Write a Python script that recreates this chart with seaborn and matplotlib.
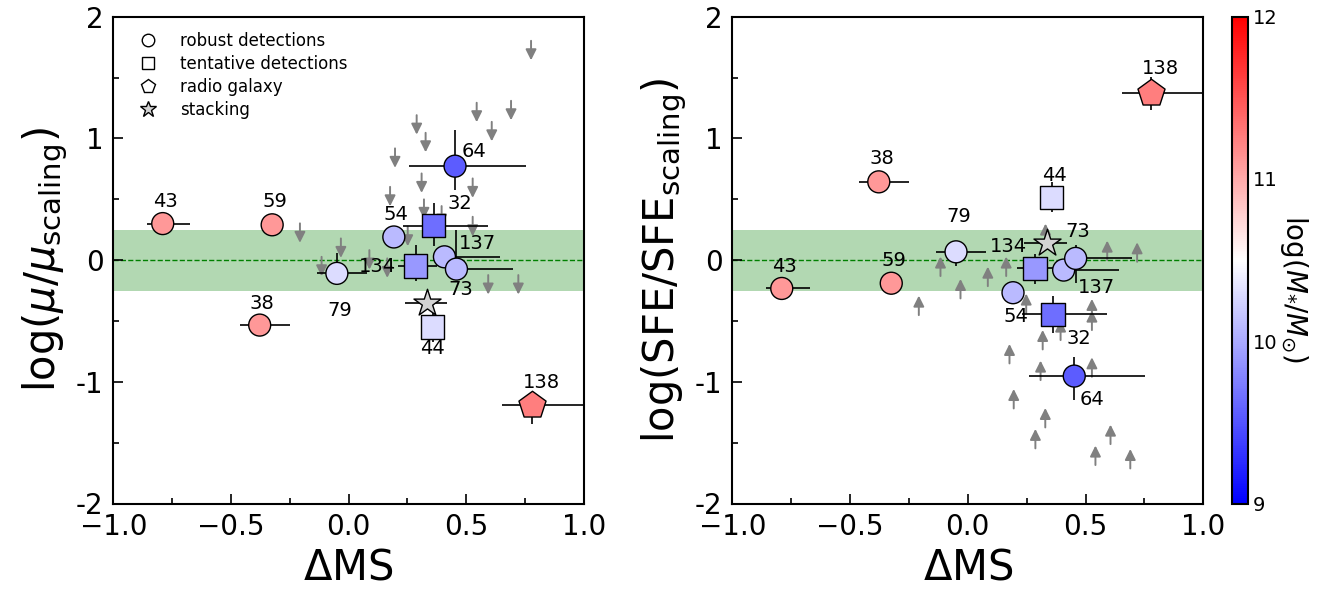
import numpy as np
import pandas as pd
import matplotlib
matplotlib.use('Agg')
import matplotlib.pyplot as plt
import seaborn as sns
from matplotlib.lines import Line2D
from matplotlib.colors import Normalize
from matplotlib.ticker import MultipleLocator
import matplotlib.cm as cm

# ---------------- data ----------------
ids = ['43', '59', '38', '79', '54', '32', '64', '134', '137', '73', '44', '138']
kind = ['robust', 'robust', 'robust', 'robust', 'robust', 'tentative', 'robust',
        'tentative', 'robust', 'robust', 'tentative', 'radio']
dms = [-0.79, -0.325, -0.378, -0.05, 0.192, 0.362, 0.452, 0.285, 0.407, 0.458, 0.357, 0.777]
dms_err_lo = [0.066, 0.0, 0.083, 0.083, 0.0, 0.13, 0.194, 0.076, 0.03, 0.03, 0.0, 0.124]
dms_err_hi = [0.118, 0.0, 0.129, 0.126, 0.0, 0.23, 0.302, 0.09, 0.234, 0.24, 0.0, 0.5]
logm = [11.1, 11.1, 11.1, 10.3, 10.1, 9.65, 9.55, 9.9, 10.1, 10.1, 10.3, 11.25]

log_mu = [0.30, 0.29, -0.534, -0.109, 0.19, 0.282, 0.772, -0.049, 0.027, -0.074, -0.55, -1.19]
log_mu_err_lo = [0, 0, 0, 0.08, 0, 0.17, 0.197, 0.12, 0.05, 0.05, 0.12, 0.16]
log_mu_err_hi = [0, 0, 0, 0.17, 0, 0.19, 0.296, 0.17, 0.05, 0.32, 0.12, 0.10]

log_sfe = [-0.233, -0.19, 0.643, 0.068, -0.268, -0.444, -0.953, -0.068, -0.082, 0.014, 0.515, 1.375]
log_sfe_err_lo = [0, 0, 0, 0.12, 0, 0.154, 0.2, 0.125, 0.05, 0.2, 0.12, 0.14]
log_sfe_err_hi = [0, 0, 0, 0.05, 0, 0.15, 0.16, 0.117, 0.05, 0.11, 0.13, 0.13]

# stacking
stack_dms = [0.335]
stack_dms_err_lo = [0.095]
stack_dms_err_hi = [0.085]
stack_mu = [-0.353]
stack_sfe = [0.137]

# non-detections: upper limits on mu, lower limits on SFE
ul_dms = [0.289, 0.327, 0.197, 0.544, 0.690, 0.608, 0.310, 0.527, 0.176, 0.32,
          0.395, 0.527, 0.251, -0.207, -0.033, 0.088, -0.115, 0.164, 0.593, 0.721, 0.775]
ul_mu = [1.191, 1.046, 0.918, 1.293, 1.309, 1.136, 0.712, 0.671, 0.602, 0.499,
         0.444, 0.356, 0.274, 0.302, 0.178, 0.082, 0.027, 0.014, -0.123, -0.123, 1.802]
ll_dms = [0.33, 0.592, 0.719, -0.116, 0.163, 0.085, -0.031, -0.208, 0.248, 0.527, 0.527,
          0.394, 0.318, 0.177, 0.309, 0.527, 0.195, 0.329, 0.287, 0.606, 0.542, 0.69]
ll_sfe = [0.14, 0.0, -0.014, -0.131, -0.131, -0.214, -0.315, -0.452, -0.435, -0.479, -0.575,
          -0.657, -0.734, -0.849, -0.986, -0.959, -1.219, -1.375, -1.547, -1.512, -1.684, -1.712]

# label offsets (pixels)
lab_off_mu = {'43': (3, 22), '59': (3, 23), '38': (2, 22), '79': (3, -37), '54': (2, 22),
              '32': (26, 22), '64': (19, 15), '134': (-38, 0), '137': (33, 13), '73': (4, -20),
              '44': (0, -21), '138': (10, 22)}
lab_off_sfe = {'43': (3, 22), '59': (3, 23), '38': (3, 23), '79': (3, 35), '54': (3, -24),
               '32': (26, -24), '64': (18, -23), '134': (-26, 22), '137': (33, -17), '73': (2, 27),
               '44': (3, 22), '138': (10, 24)}

df = pd.DataFrame({'id': ids, 'kind': kind, 'dms': dms, 'logm': logm,
                   'mu': log_mu, 'sfe': log_sfe})

# ---------------- style ----------------
sns.set_style('ticks')
plt.rcParams['font.family'] = ['DejaVu Sans']
plt.rcParams['mathtext.fontset'] = 'dejavusans'
for key in ['text.color', 'axes.labelcolor', 'xtick.color', 'ytick.color', 'axes.edgecolor']:
    plt.rcParams[key] = 'black'

W, H = 1322, 592
fig = plt.figure(figsize=(W / 100, H / 100), dpi=100)
top, bot = 16.7, 503.5
ax1 = fig.add_axes([113.3 / W, 1 - bot / H, (584 - 113.3) / W, (bot - top) / H])
ax2 = fig.add_axes([732.3 / W, 1 - bot / H, (1203.3 - 732.3) / W, (bot - top) / H])
cax = fig.add_axes([1232 / W, 1 - bot / H, 16 / W, (bot - top) / H])

norm = Normalize(9, 12)
markers = {'robust': ('o', 250), 'tentative': ('s', 280), 'radio': ('p', 420)}
ARROW_LEN = 0.16


def panel(ax, col, elo, ehi, stack_y, lim_x, lim_y, down, offs, ylabel):
    ax.axhspan(-0.25, 0.25, color='green', alpha=0.3, lw=0, zorder=0)
    ax.axhline(0, color='green', ls='--', lw=1, zorder=0.5)
    # limits arrows
    for x, y in zip(lim_x, lim_y):
        y2 = y - ARROW_LEN if down else y + ARROW_LEN
        ax.annotate('', xy=(x, y2), xytext=(x, y),
                    arrowprops=dict(arrowstyle='-|>', color='grey', lw=1.4,
                                    mutation_scale=16, shrinkA=0, shrinkB=0),
                    zorder=1.5)
    # error bars
    ax.errorbar(df['dms'], df[col], xerr=[dms_err_lo, dms_err_hi], yerr=[elo, ehi],
                fmt='none', ecolor='black', elinewidth=1.2, capsize=0, zorder=2)
    ax.errorbar(stack_dms, stack_y, xerr=[stack_dms_err_lo, stack_dms_err_hi],
                fmt='none', ecolor='black', elinewidth=1.2, capsize=0, zorder=2)
    for k, (m, s) in markers.items():
        sub = df[df['kind'] == k]
        sns.scatterplot(data=sub, x='dms', y=col, hue='logm', palette='bwr', hue_norm=(9, 12),
                        marker=m, s=s, edgecolor='black', linewidth=1.0, legend=False,
                        ax=ax, zorder=3)
    ax.scatter(stack_dms, stack_y, marker='*', s=420, facecolor='lightgrey',
               edgecolor='black', linewidth=1.0, zorder=3)
    for i, x, y in zip(df['id'], df['dms'], df[col]):
        ax.annotate(i, xy=(x, y), xytext=offs[i], textcoords='offset pixels',
                    ha='center', va='center', fontsize=14, zorder=4)
    ax.set_xlim(-1, 1)
    ax.set_ylim(-2, 2)
    ax.set_xticks([-1, -0.5, 0, 0.5, 1])
    ax.set_xticklabels(['\u22121.0', '\u22120.5', '0.0', '0.5', '1.0'])
    ax.set_yticks([-2, -1, 0, 1, 2])
    ax.set_yticklabels(['-2', '-1', '0', '1', '2'])
    ax.xaxis.set_minor_locator(MultipleLocator(0.25))
    ax.yaxis.set_minor_locator(MultipleLocator(0.5))
    ax.tick_params(which='both', direction='in', top=False, right=False, width=1.2,
                   labelsize=20, pad=7)
    ax.tick_params(which='major', length=7)
    ax.tick_params(which='minor', length=4.3)
    for sp in ax.spines.values():
        sp.set_visible(True)
        sp.set_linewidth(1.5)
        sp.set_color('black')
    ax.set_xlabel(r'$\Delta$MS', fontsize=30)
    ax.set_ylabel(ylabel, fontsize=30)


panel(ax1, 'mu', log_mu_err_lo, log_mu_err_hi, stack_mu, ul_dms, ul_mu, True, lab_off_mu,
      r'log($\mu/\mu_{\rm scaling}$)')
panel(ax2, 'sfe', log_sfe_err_lo, log_sfe_err_hi, stack_sfe, ll_dms, ll_sfe, False, lab_off_sfe,
      r'log(SFE/SFE$_{\rm scaling}$)')

handles = [
    Line2D([], [], marker='o', ls='', mfc='white', mec='black', ms=9, mew=1),
    Line2D([], [], marker='s', ls='', mfc='white', mec='black', ms=9, mew=1),
    Line2D([], [], marker='p', ls='', mfc='white', mec='black', ms=10, mew=1),
    Line2D([], [], marker='*', ls='', mfc='lightgrey', mec='black', ms=12, mew=1),
]
ax1.legend(handles, ['robust detections', 'tentative detections', 'radio galaxy', 'stacking'],
           loc='upper left', bbox_to_anchor=(0.025, 1.0), frameon=False, fontsize=12,
           handlelength=1.0, handletextpad=1.4, labelspacing=0.3)

sm = cm.ScalarMappable(norm=norm, cmap='bwr')
cb = fig.colorbar(sm, cax=cax)
cb.set_ticks([9, 10, 11, 12])
cax.tick_params(direction='in', labelsize=14, length=6, width=1.2, color='black')
cb.outline.set_linewidth(1.5)
cb.outline.set_edgecolor('black')
cb.set_label(r'log($M_{*}/M_{\odot}$)', rotation=270, fontsize=20)
cax.yaxis.set_label_coords(4.9, 0.44)

fig.savefig('out.png', dpi=100)
